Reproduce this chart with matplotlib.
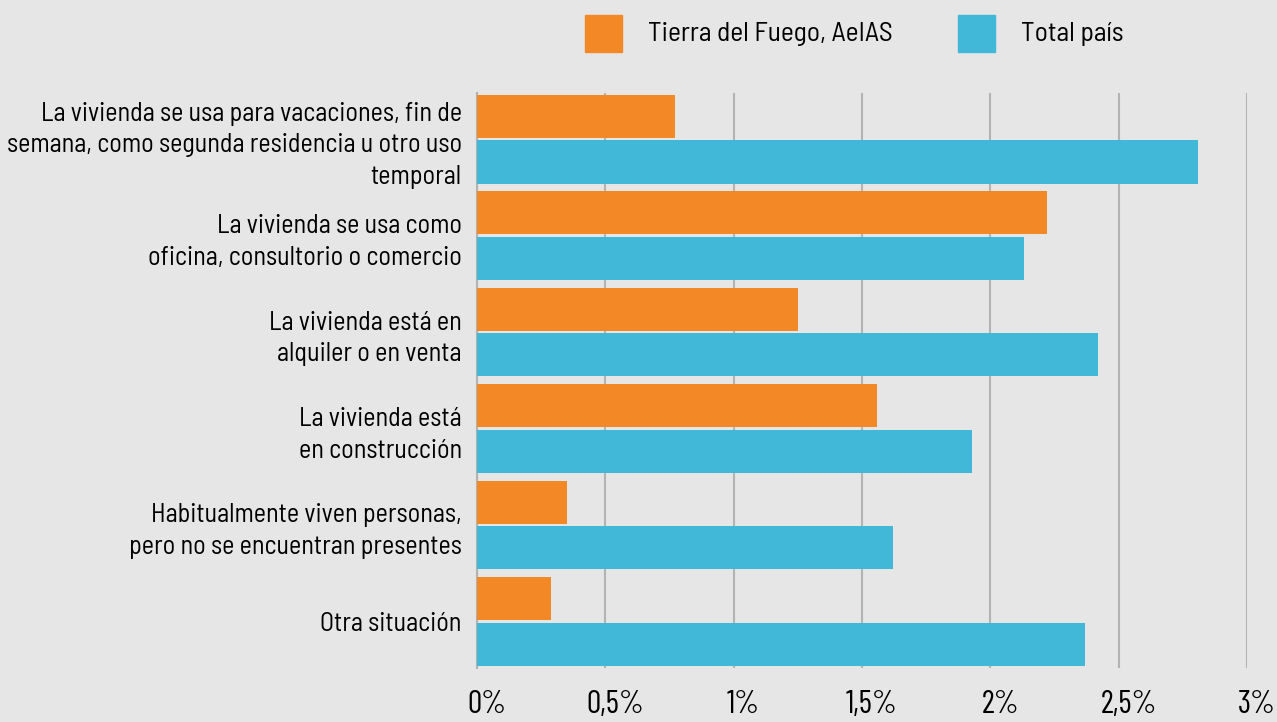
import matplotlib
matplotlib.use('Agg')
import matplotlib.pyplot as plt
import matplotlib.transforms as mtransforms
import numpy as np
from matplotlib.patches import Rectangle

plt.rcParams['font.family'] = ['Barlow Semi Condensed', 'DejaVu Sans']

categorias = [
    'La vivienda se usa para vacaciones, fin de\nsemana, como segunda residencia u otro uso\ntemporal',
    'La vivienda se usa como\noficina, consultorio o comercio',
    'La vivienda está en\nalquiler o en venta',
    'La vivienda está\nen construcción',
    'Habitualmente viven personas,\npero no se encuentran presentes',
    'Otra situación',
]
tierra_del_fuego = [0.77, 2.22, 1.25, 1.56, 0.35, 0.29]
total_pais = [2.81, 2.13, 2.42, 1.93, 1.62, 2.37]
ticks = [0, 0.5, 1, 1.5, 2, 2.5, 3]
tick_labels = ['0%', '0,5%', '1%', '1,5%', '2%', '2,5%', '3%']
series = ['Tierra del Fuego, AeIAS', 'Total país']

naranja = '#f28826'
celeste = '#41b8d8'
fondo = '#e6e6e6'

fig = plt.figure(figsize=(12.77, 7.22), dpi=100, facecolor=fondo)
W, H = 1277, 722
ax = fig.add_axes([477 / W, (H - 668) / H, (1247 - 477) / W, (668 - 93) / H])
ax.set_facecolor(fondo)

y = np.arange(len(categorias))
h = 0.446
off = 0.238
ax.barh(y - off, tierra_del_fuego, height=h, color=naranja, zorder=3)
ax.barh(y + off, total_pais, height=h, color=celeste, zorder=3)

ax.set_xlim(0, 3)
ax.set_ylim(5.482, -0.477)
ax.set_xticks(ticks)
ax.set_xticklabels(tick_labels, fontsize=23, family=['Barlow Condensed', 'DejaVu Sans'])
ax.set_yticks(y)
ax.set_yticklabels(categorias, fontsize=18.8, linespacing=1.4)
ax.tick_params(axis='both', length=0)
ax.tick_params(axis='x', pad=16)
ax.tick_params(axis='y', pad=11)
# las etiquetas del eje x van un poco corridas a la derecha
desplazar = mtransforms.ScaledTranslation(10 / 100, 0, fig.dpi_scale_trans)
for lbl in ax.get_xticklabels():
    lbl.set_transform(lbl.get_transform() + desplazar)
ax.grid(axis='x', color='#b3b3b3', linewidth=1.5, zorder=0)
for s in ['top', 'right', 'bottom']:
    ax.spines[s].set_visible(False)
ax.spines['left'].set_color('#b3b3b3')
ax.spines['left'].set_linewidth(1.5)

# leyenda
for x0, col, txt in [(585, naranja, series[0]), (958, celeste, series[1])]:
    fig.add_artist(Rectangle((x0 / W, (H - 52) / H), 37 / W, 37 / H,
                             transform=fig.transFigure, color=col))
    fig.text((x0 + 63) / W, (H - 41) / H, txt, fontsize=19.8, va='baseline', ha='left')

fig.savefig('out.png', dpi=100, facecolor=fondo)
